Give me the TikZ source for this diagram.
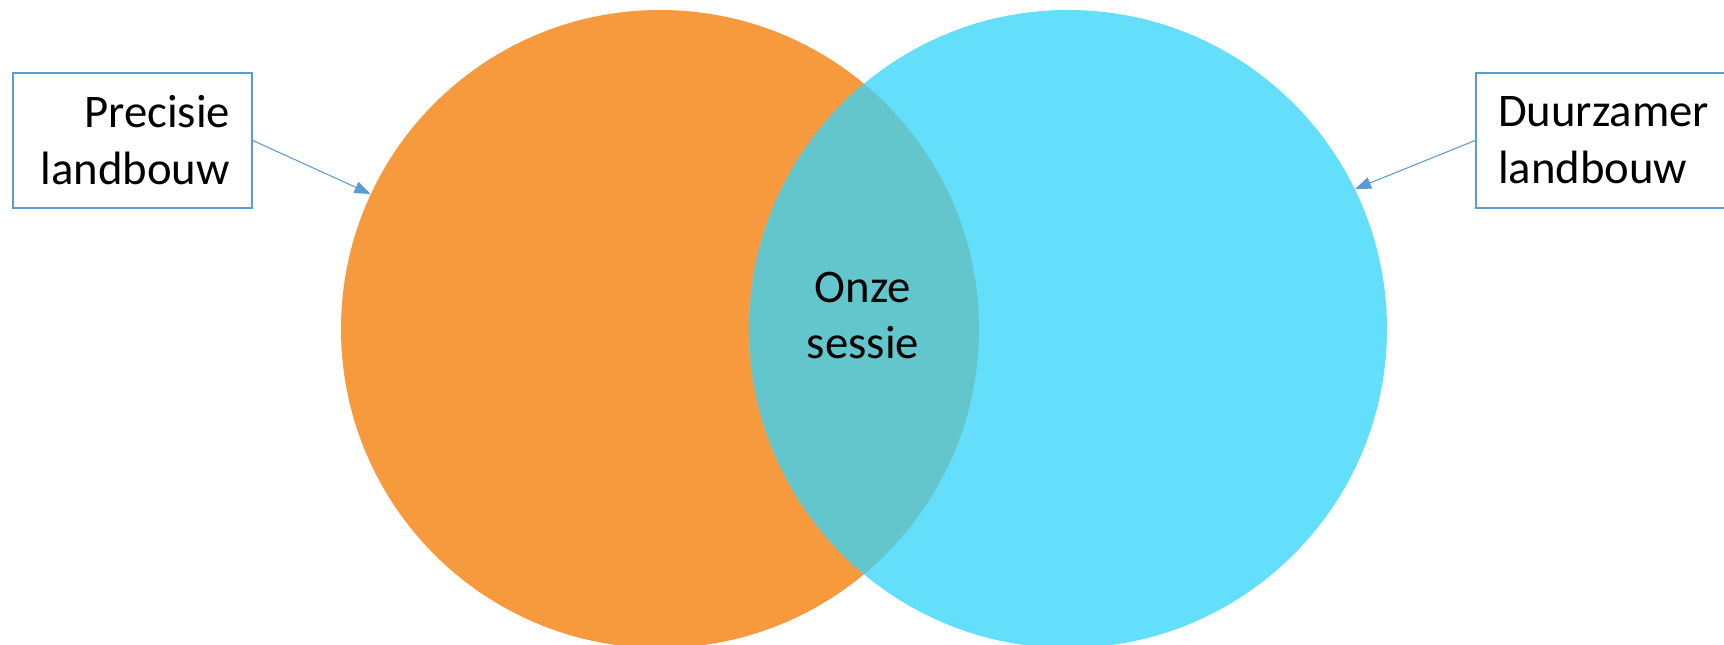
\documentclass[tikz,border=0pt]{standalone}
\usepackage{fontspec}
\setmainfont{Carlito}
\usetikzlibrary{arrows.meta,positioning}
\definecolor{oranje}{RGB}{247,153,61}
\definecolor{cyaan}{RGB}{99,223,252}
\definecolor{overlap}{RGB}{98,198,204}
\definecolor{lijnblauw}{RGB}{91,155,213}
\tikzset{every picture/.style={line width=0.5pt}}
\tikzstyle{vlak}=[circle,draw=none,minimum size=12.76cm,inner sep=0pt]
\tikzstyle{kader}=[draw=lijnblauw,line width=0.9pt,fill=white,minimum height=2.7cm,inner xsep=0.44cm,inner ysep=0pt,font=\fontsize{26.6}{32.4}\selectfont]
\tikzstyle{tekst}=[align=center,font=\fontsize{26.6}{32}\selectfont]
\tikzstyle{pijl}=[-{Triangle[length=0.32cm,width=0.24cm]},color=lijnblauw,line width=0.6pt]

\begin{document}
\begin{tikzpicture}
\clip (0,0) rectangle (34.48,12.9);
\node[vlak,fill=oranje] (lcirc) at (13.2,6.32) {};
\node[vlak,fill=cyaan] (rcirc) at (21.36,6.32) {};
\begin{scope}
  \clip (13.2,6.32) circle (6.38);
  \fill[overlap] (21.36,6.32) circle (6.38);
\end{scope}
\node[tekst] (sessie) at (17.26,6.59) {Onze\\sessie};
\node[kader,text width=3.9cm,align=right] (lbox) at (2.65,10.09) {Precisie\\landbouw};
\node[kader,text width=4.12cm,align=left] (rbox) at (32.02,10.09) {Duurzamer\\landbouw};
\draw[pijl] (lbox.east) -- (lcirc.155);
\draw[pijl] (rbox.west) -- (rcirc.26);
\end{tikzpicture}
\end{document}
